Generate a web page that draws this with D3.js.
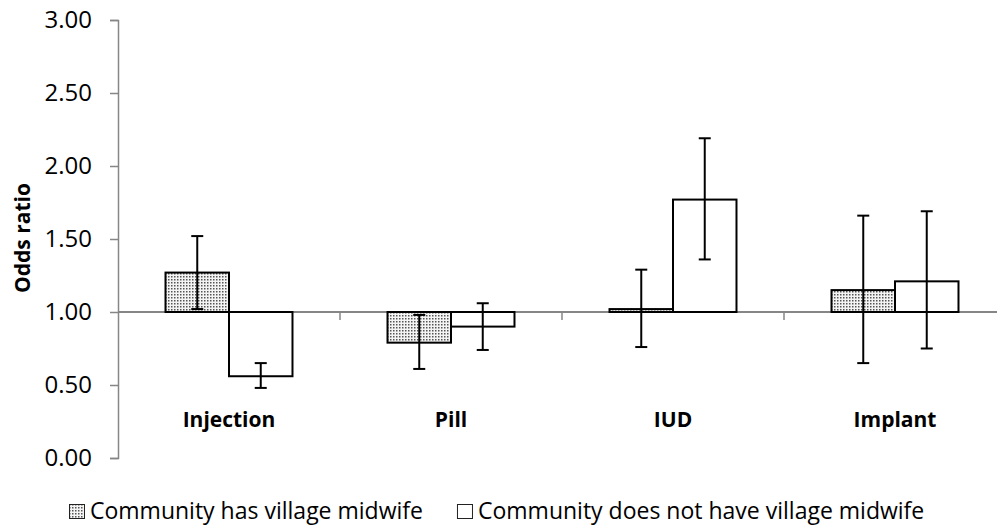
<!DOCTYPE html>
<html>
<head>
<meta charset="utf-8">
<script src="https://cdn.jsdelivr.net/npm/d3@7/dist/d3.min.js"></script>
<style>
  body { margin: 0; background: #fff; }
  text { font-family: "Open Sans", sans-serif; fill: #000; }
</style>
</head>
<body>
<div id="chart-area"></div>
<script>
// values
const categories = ["Injection", "Pill", "IUD", "Implant"];
const seriesNames = ["Community has village midwife", "Community does not have village midwife"];
const hasMidwife = [1.27, 0.79, 1.02, 1.15];
const hasLow = [1.02, 0.61, 0.76, 0.65];
const hasHigh = [1.52, 0.98, 1.29, 1.66];
const noMidwife = [0.56, 0.90, 1.77, 1.21];
const noLow = [0.48, 0.74, 1.36, 0.75];
const noHigh = [0.65, 1.06, 2.19, 1.69];
const yTicks = [0, 0.5, 1, 1.5, 2, 2.5, 3];
const baseline = 1;

const svgWidth = 997,
      svgHeight = 529;
const margin = {left: 118, right: -9, top: 20, bottom: 71};

const svg = d3.select("#chart-area")
  .append("svg")
  .attr("width", svgWidth)
  .attr("height", svgHeight);

const defs = svg.append("defs");
const pat = defs.append("pattern")
  .attr("id", "dots")
  .attr("patternUnits", "userSpaceOnUse")
  .attr("width", 3)
  .attr("height", 3);
pat.append("rect").attr("width", 3).attr("height", 3).attr("fill", "#f4f4f4");
pat.append("rect").attr("width", 1.5).attr("height", 1.5).attr("fill", "#555");

const x = d3.scaleBand()
  .domain(categories)
  .range([margin.left, svgWidth - margin.right])
  .paddingInner(0.428)
  .paddingOuter(0.214);

const xSub = d3.scaleBand()
  .domain([0, 1])
  .range([0, x.bandwidth()]);

const y = d3.scaleLinear()
  .domain([0, 3])
  .range([svgHeight - margin.bottom, margin.top]);

// y axis
const yAxisCall = d3.axisLeft(y)
  .tickValues(yTicks)
  .tickFormat(d3.format(".2f"))
  .tickSize(8)
  .tickPadding(18);

const yAxisGroup = svg.append("g")
  .attr("transform", `translate(${margin.left}, 0)`)
  .call(yAxisCall);
yAxisGroup.selectAll("path, line").attr("stroke", "#868686").attr("stroke-width", 1.5);
yAxisGroup.selectAll("text")
  .attr("font-size", "24px")
  .attr("font-family", "Open Sans")
  .attr("fill", "#000");

// y label
svg.append("text")
  .attr("transform", "rotate(-90)")
  .attr("x", -238)
  .attr("y", 30)
  .attr("text-anchor", "middle")
  .attr("font-size", "21px")
  .attr("font-weight", "bold")
  .text("Odds ratio");

// category axis sits at 1.00
const gap = (x.step() - x.bandwidth()) / 2;
const bounds = categories.map(c => x(c) - gap).concat([x(categories[3]) + x.bandwidth() + gap]);

svg.append("line")
  .attr("x1", margin.left)
  .attr("x2", bounds[4])
  .attr("y1", y(baseline))
  .attr("y2", y(baseline))
  .attr("stroke", "#868686")
  .attr("stroke-width", 2);

svg.selectAll(".xtick")
  .data(bounds.slice(1))
  .enter().append("line")
  .attr("class", "xtick")
  .attr("x1", d => d)
  .attr("x2", d => d)
  .attr("y1", y(baseline))
  .attr("y2", y(baseline) + 8)
  .attr("stroke", "#868686")
  .attr("stroke-width", 1.5);

svg.selectAll(".xlabel")
  .data(categories)
  .enter().append("text")
  .attr("class", "xlabel")
  .attr("x", d => x(d) + x.bandwidth() / 2)
  .attr("y", y(baseline) + 115)
  .attr("text-anchor", "middle")
  .attr("font-size", "21px")
  .attr("font-weight", "bold")
  .text(d => d);

// bars
const series = [
  {vals: hasMidwife, low: hasLow, high: hasHigh, fill: "url(#dots)"},
  {vals: noMidwife, low: noLow, high: noHigh, fill: "#fff"}
];

series.forEach((s, si) => {
  const g = svg.append("g");
  g.selectAll("rect")
    .data(categories)
    .enter().append("rect")
    .attr("x", c => x(c) + xSub(si))
    .attr("width", xSub.bandwidth())
    .attr("y", (c, i) => Math.min(y(s.vals[i]), y(baseline)))
    .attr("height", (c, i) => Math.abs(y(s.vals[i]) - y(baseline)))
    .attr("fill", s.fill)
    .attr("stroke", "#000")
    .attr("stroke-width", 2);
});

// error bars drawn on top
series.forEach((s, si) => {
  const g = svg.append("g").attr("stroke", "#000").attr("stroke-width", 2);
  categories.forEach((c, i) => {
    const cx = x(c) + xSub(si) + xSub.bandwidth() / 2;
    g.append("line").attr("x1", cx).attr("x2", cx).attr("y1", y(s.low[i])).attr("y2", y(s.high[i]));
    g.append("line").attr("x1", cx - 6).attr("x2", cx + 6).attr("y1", y(s.low[i])).attr("y2", y(s.low[i]));
    g.append("line").attr("x1", cx - 6).attr("x2", cx + 6).attr("y1", y(s.high[i])).attr("y2", y(s.high[i]));
  });
});

// legend
const legend = svg.append("g").attr("transform", "translate(69, 519)");
let lx = 0;
seriesNames.forEach((name, si) => {
  legend.append("rect")
    .attr("x", lx + 0.5)
    .attr("y", -14.5)
    .attr("width", 15)
    .attr("height", 14)
    .attr("fill", series[si].fill)
    .attr("stroke", "#222")
    .attr("stroke-width", 1);
  const t = legend.append("text")
    .attr("x", lx + 21)
    .attr("y", 0)
    .attr("font-size", "23px")
    .text(name);
  lx += 21 + t.node().getComputedTextLength() + 34;
});
</script>
</body>
</html>
